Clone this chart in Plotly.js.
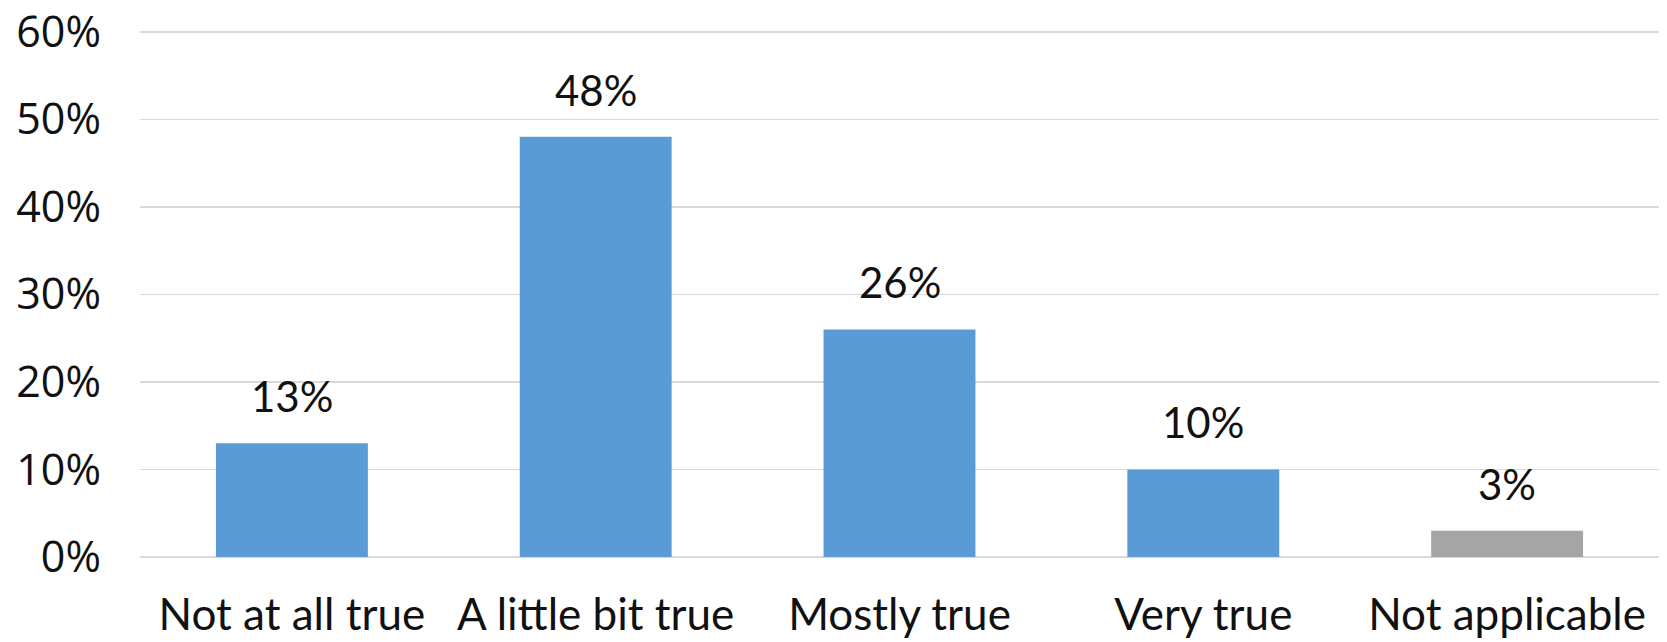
<!DOCTYPE html>
<html>
<head>
<meta charset="utf-8">
<script src="https://cdn.plot.ly/plotly-3.0.1.min.js"></script>
<style>html,body{margin:0;padding:0;background:#fff;}#chart{width:1667px;height:642px;}</style>
</head>
<body>
<div id="chart"></div>
<script>
const categories = ["Not at all true", "A little bit true", "Mostly true", "Very true", "Not applicable"];
const values = [13, 48, 26, 10, 3];
const labels = ["13%", "48%", "26%", "10%", "3%"];
const barColors = ["#5B9BD5", "#5B9BD5", "#5B9BD5", "#5B9BD5", "#A5A5A5"];
const yTickVals = [0, 10, 20, 30, 40, 50, 60];
const yTickText = ["0%", "10%", "20%", "30%", "40%", "50%", "60%"];

const trace = {
  type: "bar",
  x: categories,
  y: values,
  marker: { color: barColors },
  hoverinfo: "none"
};

const annotations = categories.map((c, i) => ({
  x: c, y: values[i], xref: "x", yref: "y",
  text: labels[i], showarrow: false,
  yanchor: "bottom", yshift: 20,
  font: { family: "Lato, sans-serif", size: 42, color: "#111" }
}));

const layout = {
  width: 1667, height: 642,
  margin: { l: 140, r: 8, t: 30, b: 85 },
  paper_bgcolor: "#fff", plot_bgcolor: "#fff",
  bargap: 0.5,
  showlegend: false,
  xaxis: {
    showline: false, showgrid: false, zeroline: false,
    ticks: "", ticklabelstandoff: 28,
    tickfont: { family: "Lato, sans-serif", size: 44, color: "#111" }
  },
  yaxis: {
    range: [0, 60.2], tickmode: "array", tickvals: yTickVals, ticktext: yTickText,
    showline: false, zeroline: true, zerolinecolor: "#D9D9D9", zerolinewidth: 1.5,
    gridcolor: "#D9D9D9", gridwidth: 1.5,
    ticks: "", ticklabelstandoff: 38,
    tickfont: { family: "Open Sans, sans-serif", size: 43, color: "#111" }
  },
  annotations: annotations
};

Plotly.newPlot("chart", [trace], layout, { displayModeBar: false, staticPlot: true });
</script>
</body>
</html>
